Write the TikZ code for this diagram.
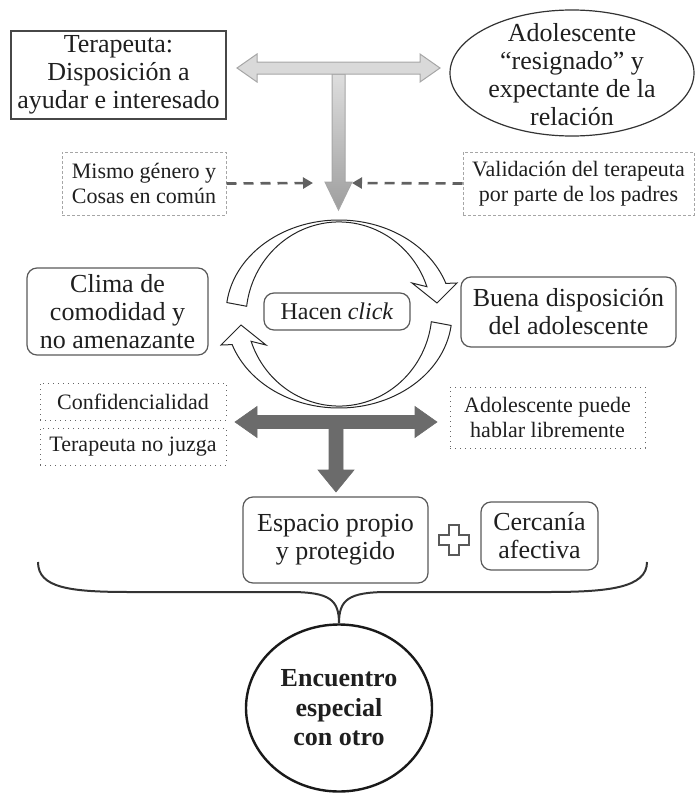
\documentclass[tikz,border=0pt]{standalone}
\usepackage{fontspec}
\setmainfont{Liberation Serif}
\usetikzlibrary{shapes.geometric,arrows.meta}

\begin{document}
\begin{tikzpicture}[x=0.5pt, y=-0.5pt,
  every node/.style={align=center, inner sep=0pt, text=black!88},
  bigtext/.style={font=\fontsize{13}{14}\selectfont},
  smalltext/.style={font=\fontsize{11}{12.5}\selectfont},
  roundbox/.style={draw=black!65, rounded corners=5pt, line width=0.6pt, bigtext},
  dashbox/.style={draw=black!35, dash pattern=on 1.5pt off 1pt, line width=0.5pt, smalltext},
  dotbox/.style={draw=black!60, dotted, line width=0.5pt, smalltext},
  dasharrow/.style={draw=black!62, line width=1.3pt, dash pattern=on 5pt off 3.5pt, -{Triangle[length=5pt,width=5.5pt]}},
  cyclearrow/.style={draw=black!85, fill=white, line width=0.5pt},
  lighttee/.style={draw=black!35, line width=0.5pt},
  darktee/.style={fill=black!58, draw=black!58, line width=0.3pt}]
\useasboundingbox (0,0) rectangle (695,793);

\node[draw=black!72, line width=0.8pt, minimum width=107.5pt, minimum height=44pt, bigtext] (terapeuta) at (118.5,75) {Terapeuta:\\Disposición a\\ayudar e interesado};
\node[bigtext] (adolesc) at (572,75) {Adolescente\\“resignado” y\\expectante de la\\relación};
\draw[draw=black!80, line width=0.6pt] (572,73) ellipse [x radius=122, y radius=63];

\node[dashbox, minimum width=82pt, minimum height=31.5pt] (genero) at (144,183.5) {Mismo género y\\Cosas en común};
\node[dashbox, minimum width=115.5pt, minimum height=31.5pt] (padres) at (578.5,183.5) {Validación del terapeuta\\por parte de los padres};

\coordinate (teetop) at (338.5,68);
\begin{scope}[shift={(teetop)}]
\shadedraw[lighttee, top color=black!13, bottom color=black!38] (-6.5,6) -- (6.5,6) -- (6.5,114) -- (13.5,114) -- (0,142) -- (-13.5,114) -- (-6.5,114) -- cycle;
\filldraw[lighttee, fill=black!15] (-101.5,0) -- (-81.5,-14) -- (-81.5,-6) -- (81.5,-6) -- (81.5,-14) -- (101.5,0) -- (81.5,14) -- (81.5,6) -- (-81.5,6) -- (-81.5,14) -- cycle;
\end{scope}

\coordinate (genarrow) at (313,183);
\coordinate (padarrow) at (352,183);
\draw[dasharrow] (genero.east) -- (genarrow);
\draw[dasharrow] (padres.west) -- (padarrow);

\coordinate (cyc) at (339,314);
\foreach \r in {0,180}{
\begin{scope}[shift={(cyc)}, rotate=\r]
\filldraw[cyclearrow] (187:113 and 94) arc[start angle=187, end angle=341, x radius=113, y radius=94] -- (118,-31) -- (98,-11) -- (73,-31) -- (87.9,-27.3) arc[start angle=341, end angle=187, x radius=93, y radius=96] -- cycle;
\end{scope}
}

\node[roundbox, minimum width=90.5pt, minimum height=43.5pt] (clima) at (117.5,311.5) {Clima de\\comodidad y\\no amenazante};
\node[roundbox, minimum width=73pt, minimum height=18.5pt, font=\fontsize{12}{13}\selectfont] (click) at (337,311.5) {Hacen \textit{click}};
\node[roundbox, minimum width=107.5pt, minimum height=35pt] (buena) at (568.5,312) {Buena disposición\\del adolescente};

\node[dotbox, minimum width=93pt, minimum height=18.5pt] (confid) at (133,401.5) {Confidencialidad};
\node[dotbox, minimum width=93pt, minimum height=18.5pt] (nojuzga) at (133,446.5) {Terapeuta no juzga};
\node[dotbox, minimum width=97.5pt, minimum height=30.5pt] (habla) at (547.5,417.5) {Adolescente puede\\hablar libremente};

\coordinate (teemid) at (336,422);
\begin{scope}[shift={(teemid)}]
\fill[darktee] (-7,5) -- (7,5) -- (7,48) -- (18,48) -- (0,70) -- (-18,48) -- (-7,48) -- cycle;
\fill[darktee] (-101,0) -- (-79,-15.5) -- (-79,-6.5) -- (79,-6.5) -- (79,-15.5) -- (101,0) -- (79,15.5) -- (79,6.5) -- (-79,6.5) -- (-79,15.5) -- cycle;
\end{scope}

\node[roundbox, minimum width=92.5pt, minimum height=43pt] (espacio) at (335.5,540) {Espacio propio\\y protegido};
\node[roundbox, minimum width=58.5pt, minimum height=34pt] (cercania) at (539.5,536) {Cercanía\\afectiva};
\draw[draw=black!65, line width=0.6pt] (449,525) -- ++(10,0) -- ++(0,10) -- ++(10,0) -- ++(0,10) -- ++(-10,0) -- ++(0,10) -- ++(-10,0) -- ++(0,-10) -- ++(-10,0) -- ++(0,-10) -- ++(10,0) -- cycle;

\node[draw=black!90, ellipse, line width=1.2pt, minimum width=93pt, minimum height=83.5pt, font=\bfseries\fontsize{13}{14.75}\selectfont] (encuentro) at (339,708) {Encuentro\\especial\\con otro};

\coordinate (braceL) at (38,562);
\coordinate (braceR) at (647,562);
\draw[draw=black!80, line width=1pt] (braceL) .. controls (38,588) and (70,592) .. (130,592) -- (290,592) .. controls (330,592) and (339,600) .. (encuentro.north) .. controls (339,600) and (348,592) .. (388,592) -- (548,592) .. controls (608,592) and (647,588) .. (braceR);
\end{tikzpicture}
\end{document}
